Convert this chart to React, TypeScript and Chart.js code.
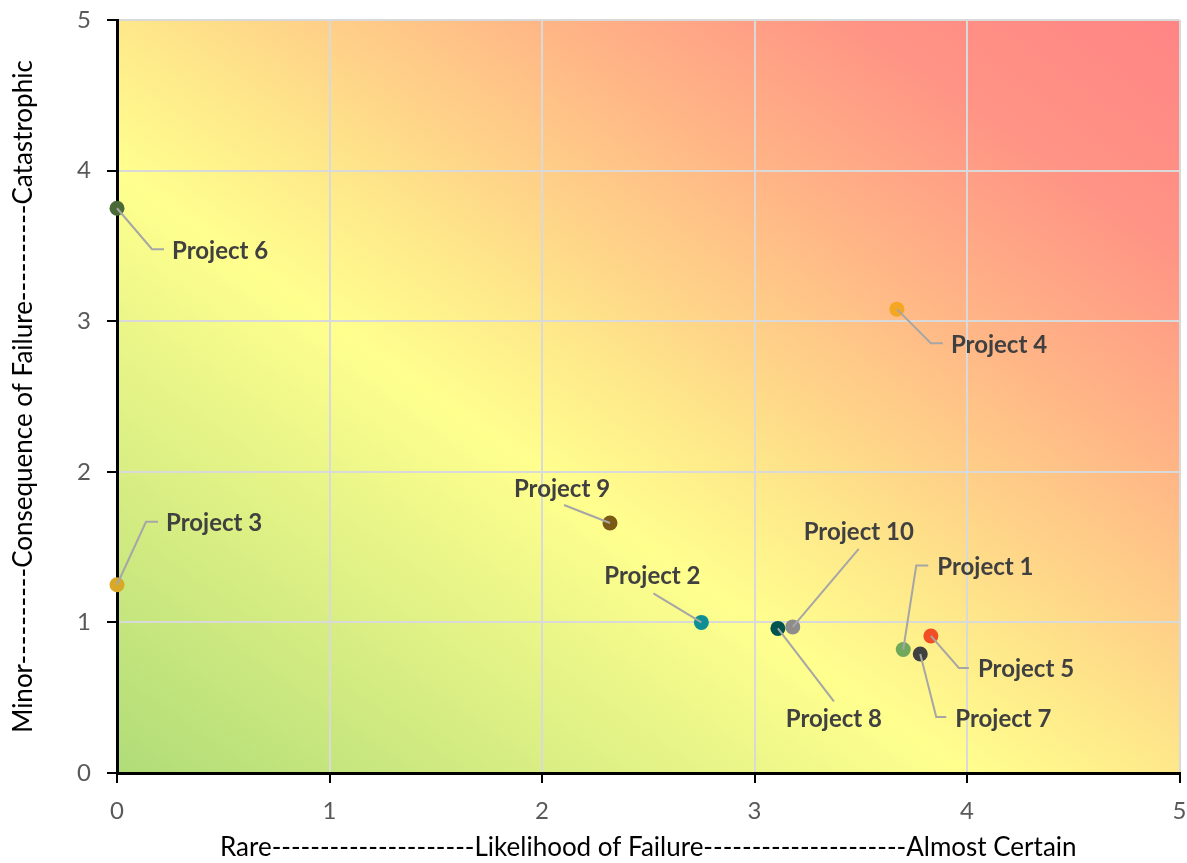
import React, { useEffect, useRef } from "react";
import { Chart, registerables } from "chart.js";

Chart.register(...registerables);

const projects = ["Project 1", "Project 2", "Project 3", "Project 4", "Project 5", "Project 6", "Project 7", "Project 8", "Project 9", "Project 10"];
const likelihood = [3.7, 2.75, 0, 3.67, 3.83, 0, 3.78, 3.11, 2.32, 3.18];
const consequence = [0.82, 1.0, 1.25, 3.08, 0.91, 3.75, 0.79, 0.96, 1.66, 0.97];
const pointColors = ["#70a85c", "#0e8f93", "#d9a826", "#f5a623", "#f24d24", "#4a6b37", "#404040", "#00534e", "#7a5a14", "#8f8c8c"];
const axisMin = 0;
const axisMax = 5;
const xTitle = "Rare---------------------Likelihood of Failure---------------------Almost Certain";
const yTitle = "Minor----------Consequence of Failure----------Catastrophic";

// label layout (pixel offsets from each point)
type LabelSpec = { path: [number, number][]; text: [number, number]; align: CanvasTextAlign };
const labelLayout: LabelSpec[] = [
  { path: [[13, -84], [25, -84]], text: [34, -82], align: "left" },
  { path: [[-48, -29]], text: [-49, -46], align: "center" },
  { path: [[29, -63], [41, -63]], text: [49, -61], align: "left" },
  { path: [[34, 34], [46, 34]], text: [54, 36], align: "left" },
  { path: [[28, 32], [38, 32]], text: [47, 33], align: "left" },
  { path: [[35, 41], [47, 41]], text: [55, 43], align: "left" },
  { path: [[16, 63], [26, 63]], text: [35, 65], align: "left" },
  { path: [[56, 73]], text: [56, 91], align: "center" },
  { path: [[-46, -18]], text: [-48, -34], align: "center" },
  { path: [[66, -78]], text: [66, -95], align: "center" },
];

const gradientStops: [number, string][] = [
  [0, "#b0dc78"],
  [0.4, "#ffff8e"],
  [0.5, "#fee88a"],
  [0.7, "#ffb586"],
  [0.85, "#ff9385"],
  [1, "#ff8585"],
];

const backgroundPlugin = {
  id: "riskBackground",
  beforeDraw(chart: any) {
    const { ctx, chartArea } = chart;
    const { left, top, right, bottom } = chartArea;
    const w = right - left;
    const h = bottom - top;
    const t = (2 * w * h) / (w * w + h * h);
    const g = ctx.createLinearGradient(left, bottom, left + t * h, bottom - t * w);
    gradientStops.forEach(([o, c]) => g.addColorStop(o, c));
    ctx.save();
    ctx.fillStyle = g;
    ctx.fillRect(left, top, w, h);
    ctx.restore();
  },
};

const labelPlugin = {
  id: "projectLabels",
  afterDatasetsDraw(chart: any) {
    const { ctx } = chart;
    const xs = chart.scales.x;
    const ys = chart.scales.y;
    ctx.save();
    projects.forEach((name, i) => {
      const px = xs.getPixelForValue(likelihood[i]);
      const py = ys.getPixelForValue(consequence[i]);
      const spec = labelLayout[i];
      ctx.beginPath();
      ctx.moveTo(px, py);
      spec.path.forEach(([dx, dy]) => ctx.lineTo(px + dx, py + dy));
      ctx.strokeStyle = "#a6a6a6";
      ctx.lineWidth = 2;
      ctx.stroke();
      ctx.font = "bold 24px Lato";
      ctx.fillStyle = "#404040";
      ctx.textAlign = spec.align;
      ctx.textBaseline = "middle";
      ctx.fillText(name, px + spec.text[0], py + spec.text[1]);
    });
    ctx.restore();
  },
};

const zeroPad = (s: any) => {
  s.paddingTop = 0;
  s.paddingBottom = 0;
  s.paddingLeft = 0;
  s.paddingRight = 0;
};

export default function App() {
  const ref = useRef<HTMLCanvasElement | null>(null);
  useEffect(() => {
    if (!ref.current) return;
    const chart = new Chart(ref.current, {
      type: "scatter",
      data: {
        datasets: [
          {
            label: "Projects",
            data: likelihood.map((x, i) => ({ x, y: consequence[i] })),
            pointBackgroundColor: pointColors,
            pointBorderWidth: 0,
            pointRadius: 7.5,
            clip: false as any,
          },
        ],
      },
      options: {
        animation: false,
        responsive: false,
        layout: { padding: { top: 20, right: 6, left: 0, bottom: 0 } },
        plugins: { legend: { display: false }, tooltip: { enabled: false } },
        scales: {
          x: {
            type: "linear",
            min: axisMin,
            max: axisMax,
            ticks: { stepSize: 1, color: "#595959", font: { family: "Lato", size: 24 }, padding: 14 },
            grid: { color: "#d9d9d9", lineWidth: 2, tickColor: "#000", tickLength: 10 },
            border: { color: "#000", width: 3 },
            title: { display: true, text: xTitle, color: "#000", font: { family: "Lato", size: 26 }, padding: { top: 0, bottom: 0 } },
            afterFit: (s: any) => { s.height = 90; zeroPad(s); },
          },
          y: {
            type: "linear",
            min: axisMin,
            max: axisMax,
            ticks: { stepSize: 1, color: "#595959", font: { family: "Lato", size: 24 }, padding: 16 },
            grid: { color: "#d9d9d9", lineWidth: 2, tickColor: "#000", tickLength: 10 },
            border: { color: "#000", width: 3 },
            title: { display: true, text: yTitle, color: "#000", font: { family: "Lato", size: 26 }, padding: { top: 8, bottom: 0 } },
            afterFit: (s: any) => { s.width = 117; zeroPad(s); },
          },
        },
      },
      plugins: [backgroundPlugin, labelPlugin],
    });
    return () => chart.destroy();
  }, []);
  return (
    <div style={{ position: "absolute", left: 0, top: 0, width: 1187, height: 863 }}>
      <canvas ref={ref} width={1187} height={863} style={{ display: "block" }} />
    </div>
  );
}
